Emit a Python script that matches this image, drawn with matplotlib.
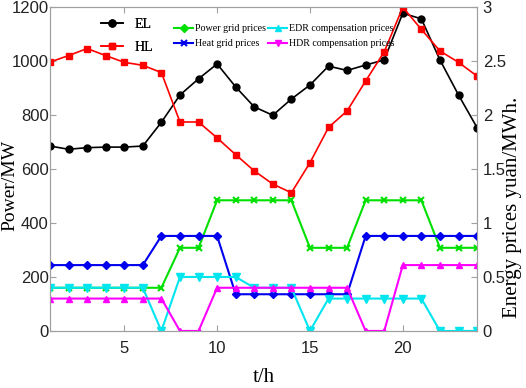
import matplotlib.pyplot as plt
from matplotlib.lines import Line2D

hours = list(range(1, 25))

# loads, MW
el_load = [685, 673, 679, 681, 681, 685, 773, 874, 934, 989, 904, 830,
           799, 859, 911, 981, 965, 985, 1004, 1177, 1156, 1004, 874, 753]
hl_load = [996, 1020, 1046, 1020, 995, 984, 957, 774, 774, 715, 653, 593,
           544, 512, 623, 754, 815, 926, 1034, 1199, 1117, 1037, 995, 944]

# prices, yuan/MWh
power_grid = [0.4, 0.4, 0.4, 0.4, 0.4, 0.4, 0.4, 0.77, 0.77, 1.21, 1.21, 1.21,
              1.21, 1.21, 0.77, 0.77, 0.77, 1.21, 1.21, 1.21, 1.21, 0.77, 0.77, 0.77]
heat_grid = [0.61, 0.61, 0.61, 0.61, 0.61, 0.61, 0.88, 0.88, 0.88, 0.88, 0.34, 0.34,
             0.34, 0.34, 0.34, 0.34, 0.34, 0.88, 0.88, 0.88, 0.88, 0.88, 0.88, 0.88]
edr_comp = [0.4, 0.4, 0.4, 0.4, 0.4, 0.4, 0.0, 0.5, 0.5, 0.5, 0.5, 0.4,
            0.4, 0.4, 0.0, 0.3, 0.3, 0.3, 0.3, 0.3, 0.3, 0.0, 0.0, 0.0]
hdr_comp = [0.3, 0.3, 0.3, 0.3, 0.3, 0.3, 0.3, 0.0, 0.0, 0.4, 0.4, 0.4,
            0.4, 0.4, 0.4, 0.4, 0.4, 0.0, 0.0, 0.61, 0.61, 0.61, 0.61, 0.61]

serif = 'Liberation Serif'
sans = 'Liberation Sans'
spine_col = '#a0a0a0'

fig = plt.figure(figsize=(5.26, 3.88), dpi=100)
ax = fig.add_axes([0.095, 0.147, 0.812, 0.835])
ax2 = ax.twinx()

ax.plot(hours, el_load, color='black', marker='o', ms=5, lw=1.2)
ax.plot(hours, hl_load, color='red', marker='s', ms=4.5, lw=1.2)

ax2.plot(hours, power_grid, color='#00e000', marker='x', ms=4.5, mew=1.5, lw=1.5)
ax2.plot(hours, heat_grid, color='#0000ee', marker='D', ms=4, lw=1.5)
ax2.plot(hours, edr_comp, color='#00e5ee', marker='v', ms=5.5, lw=1.5)
ax2.plot(hours, hdr_comp, color='#ff00ff', marker='^', ms=5, lw=1.5)

ax.set_xlim(1, 24)
ax.set_ylim(0, 1200)
ax2.set_ylim(0, 3)
ax.set_xticks([5, 10, 15, 20])
ax.set_yticks([0, 200, 400, 600, 800, 1000, 1200])
ax2.set_yticks([0, 0.5, 1, 1.5, 2, 2.5, 3])
ax2.set_yticklabels(['0', '0.5', '1', '1.5', '2', '2.5', '3'])

for a in (ax, ax2):
    for s in a.spines.values():
        s.set_color(spine_col)
    a.tick_params(direction='in', color=spine_col, length=4, labelsize=12,
                  labelcolor='#222222')
    for lab in a.get_xticklabels() + a.get_yticklabels():
        lab.set_fontfamily(sans)
ax.tick_params(axis='x', top=True, pad=7)
ax.tick_params(axis='y', pad=1)
ax2.tick_params(axis='y', pad=4)

ax.set_xlabel('t/h', fontfamily=serif, fontsize=15)
ax.xaxis.set_label_coords(0.5, -0.145, transform=ax.transAxes)
ax.xaxis.label.set_va('center')
ax.set_ylabel('Power/MW', fontfamily=serif, fontsize=14)
ax.yaxis.set_label_coords(-0.094, 0.448)
ax.yaxis.label.set_va('center')
ax2.set_ylabel('Energy prices yuan/MWh.', fontfamily=serif, fontsize=15)
ax2.yaxis.set_label_coords(1.084, 0.38)
ax2.yaxis.label.set_va('center')

h1 = [Line2D([], [], color='black', marker='o', ms=5, lw=1.2),
      Line2D([], [], color='red', marker='s', ms=4.5, lw=1.2)]
leg1 = ax.legend(h1, ['EL', 'HL'], loc='upper left', bbox_to_anchor=(0.09, 1.005),
                 frameon=False, prop={'family': serif, 'size': 10},
                 handlelength=1.6, handletextpad=0.8, labelspacing=0.7)
ax.add_artist(leg1)

h2 = [Line2D([], [], color='#00e000', marker='D', ms=4, lw=1.5),
      Line2D([], [], color='#0000ee', marker='x', ms=4, mew=1.5, lw=1.5),
      Line2D([], [], color='#00e5ee', marker='^', ms=5, lw=1.5),
      Line2D([], [], color='#ff00ff', marker='v', ms=5, lw=1.5)]
ax2.legend(h2, ['Power grid prices', 'Heat grid prices',
                'EDR compensation prices', 'HDR compensation prices'],
           loc='upper left', bbox_to_anchor=(0.27, 0.975), ncol=2,
           frameon=False, prop={'family': serif, 'size': 7.2},
           handlelength=1.9, handletextpad=0.2, columnspacing=0.2,
           labelspacing=0.6)

fig.savefig('out.png', dpi=100)
